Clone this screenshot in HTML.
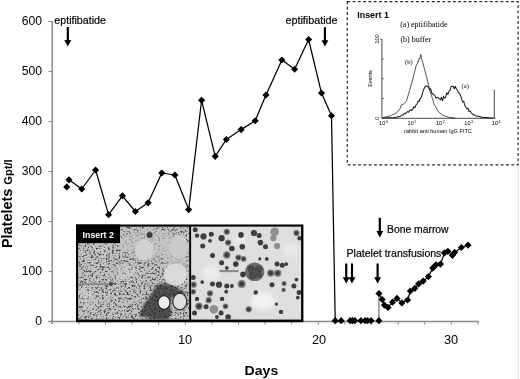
<!DOCTYPE html>
<html><head><meta charset="utf-8"><title>Platelets</title>
<style>
html,body{margin:0;padding:0;background:#fff;}
body{width:520px;height:379px;overflow:hidden;}
svg{display:block;}
text{font-family:"Liberation Sans",Arial,sans-serif;fill:#000;}
.ser{font-family:"Liberation Serif","Times New Roman",serif;}
</style></head><body>
<svg width="520" height="379" viewBox="0 0 520 379">
<defs>
<filter id="spk" x="0" y="0" width="100%" height="100%">
<feTurbulence type="fractalNoise" baseFrequency="0.48" numOctaves="3" seed="11" result="n"/>
<feColorMatrix in="n" type="matrix" values="0 0 0 0 0  0 0 0 0 0  0 0 0 0 0  4.2 0 0 0 -2.1" result="a"/>
<feComposite in="SourceGraphic" in2="a" operator="in"/>
</filter>
<filter id="bl05" x="-5%" y="-5%" width="110%" height="110%"><feGaussianBlur stdDeviation="0.45"/></filter>
<filter id="bl0" x="-20%" y="-20%" width="140%" height="140%"><feGaussianBlur stdDeviation="0.7"/></filter>
<filter id="bl1" x="-20%" y="-20%" width="140%" height="140%"><feGaussianBlur stdDeviation="1.2"/></filter>
<filter id="bl2" x="-30%" y="-30%" width="160%" height="160%"><feGaussianBlur stdDeviation="2"/></filter>
<clipPath id="cl"><rect x="78.1" y="226.6" width="111.1" height="93"/></clipPath>
<clipPath id="cr"><rect x="191.1" y="226.6" width="110" height="93"/></clipPath>
</defs>
<rect width="520" height="379" fill="#fff"/>

<g stroke="#888" stroke-width="1.5" fill="none"><path d="M52.2 21V324"/><path d="M48.3 321.4H478.8"/></g>
<g stroke="#8a8a8a" stroke-width="1" fill="none">
<path d="M48.5 21.5H52.5"/>
<path d="M48.5 71.5H52.5"/>
<path d="M48.5 121.5H52.5"/>
<path d="M48.5 171.5H52.5"/>
<path d="M48.5 221.5H52.5"/>
<path d="M48.5 271.5H52.5"/>
<path d="M48.5 321.5H52.5"/>
<path d="M78.9 321.5V324.6"/>
<path d="M105.5 321.5V324.6"/>
<path d="M132.1 321.5V324.6"/>
<path d="M158.7 321.5V324.6"/>
<path d="M185.3 321.5V324.6"/>
<path d="M211.9 321.5V324.6"/>
<path d="M238.5 321.5V324.6"/>
<path d="M265.1 321.5V324.6"/>
<path d="M291.7 321.5V324.6"/>
<path d="M318.3 321.5V324.6"/>
<path d="M344.9 321.5V324.6"/>
<path d="M371.5 321.5V324.6"/>
<path d="M398.1 321.5V324.6"/>
<path d="M424.7 321.5V324.6"/>
<path d="M451.3 321.5V324.6"/>
<path d="M477.9 321.5V324.6"/>
</g>
<text x="21.75" y="24.6" font-size="12.1" textLength="20.25" lengthAdjust="spacingAndGlyphs">600</text>
<text x="21.75" y="74.6" font-size="12.1" textLength="20.25" lengthAdjust="spacingAndGlyphs">500</text>
<text x="21.75" y="124.6" font-size="12.1" textLength="20.25" lengthAdjust="spacingAndGlyphs">400</text>
<text x="21.75" y="174.6" font-size="12.1" textLength="20.25" lengthAdjust="spacingAndGlyphs">300</text>
<text x="21.75" y="224.6" font-size="12.1" textLength="20.25" lengthAdjust="spacingAndGlyphs">200</text>
<text x="21.75" y="274.6" font-size="12.1" textLength="20.25" lengthAdjust="spacingAndGlyphs">100</text>
<text x="35.25" y="324.6" font-size="12.1" textLength="6.75" lengthAdjust="spacingAndGlyphs">0</text>
<text x="185" y="344" font-size="12.8" text-anchor="middle">10</text>
<text x="319" y="344" font-size="12.8" text-anchor="middle">20</text>
<text x="451" y="344" font-size="12.8" text-anchor="middle">30</text>
<text transform="translate(12.2,248) rotate(-90)" font-size="14.4" font-weight="bold">Platelets <tspan font-size="11.2" dy="-0.4">Gpt/l</tspan></text>
<text x="244.6" y="375.3" font-size="12.8" font-weight="bold" textLength="33.6" lengthAdjust="spacingAndGlyphs">Days</text>
<rect x="76" y="224.5" width="227.4" height="97.7" fill="#000"/>
<rect x="78.1" y="226.6" width="111.1" height="93" fill="#c2c2c2"/>
<rect x="191.1" y="226.6" width="110" height="93" fill="#dedede"/>
<g clip-path="url(#cl)">
<ellipse cx="86" cy="291" rx="7" ry="8" fill="#d2d2d2" filter="url(#bl2)"/>
<ellipse cx="128" cy="273" rx="9" ry="8" fill="#cecece" filter="url(#bl2)"/>
<ellipse cx="100" cy="250" rx="8" ry="6" fill="#cacaca" filter="url(#bl2)"/>
<rect x="78" y="226" width="112" height="94" fill="#444" filter="url(#spk)"/>
<ellipse cx="150" cy="244" rx="32" ry="14" fill="#cbcbcb" opacity="0.6" filter="url(#bl2)"/>
<ellipse cx="176" cy="262" rx="12" ry="22" fill="#cbcbcb" opacity="0.55" filter="url(#bl2)"/>
<ellipse cx="125" cy="272" rx="14" ry="9" fill="#cbcbcb" opacity="0.45" filter="url(#bl2)"/>
<ellipse cx="88" cy="300" rx="8" ry="12" fill="#cbcbcb" opacity="0.4" filter="url(#bl2)"/>
<ellipse cx="110" cy="240" rx="14" ry="8" fill="#cbcbcb" opacity="0.35" filter="url(#bl2)"/>
<path d="M157 285Q167 281 178 288L186 294Q180 300 172 297Q168 306 172 313L168 320H152Q146 316 139 317Q141 307 148 299Q153 291 157 285Z" fill="#262626" opacity="0.72" filter="url(#bl1)"/>
<ellipse cx="144.5" cy="250" rx="9.5" ry="10.5" fill="#d0d0d0" filter="url(#bl0)"/>
<ellipse cx="179" cy="247" rx="9" ry="12" fill="#cacaca" filter="url(#bl0)"/>
<ellipse cx="175.5" cy="274.5" rx="11.5" ry="11" fill="#d9d9d9" filter="url(#bl0)"/>
<ellipse cx="164" cy="302.5" rx="6" ry="6.8" fill="#ececec" stroke="#2a2a2a" stroke-width="1.2" filter="url(#bl0)"/>
<ellipse cx="179.8" cy="301.5" rx="7" ry="8.4" fill="#dcdcdc" stroke="#2a2a2a" stroke-width="1.2" filter="url(#bl0)"/>
<circle cx="149.6" cy="235" r="3" fill="#383838"/>
<rect x="79" y="283" width="30" height="2" fill="#8c8c8c"/>
<circle cx="111" cy="284" r="2" fill="#444"/>
</g>
<g clip-path="url(#cr)">
<ellipse cx="263" cy="301" rx="12" ry="9" fill="#f2f2f2" filter="url(#bl2)"/>
<ellipse cx="211" cy="273" rx="9" ry="7" fill="#ececec" filter="url(#bl2)"/>
<ellipse cx="290" cy="250" rx="8" ry="7" fill="#e8e8e8" filter="url(#bl2)"/>
<ellipse cx="240" cy="240" rx="7" ry="6" fill="#e8e8e8" filter="url(#bl2)"/>
<g filter="url(#bl05)">
<ellipse cx="254.7" cy="271.8" rx="9.8" ry="9.3" fill="#6e6e6e"/>
<circle cx="251.0" cy="268.7" r="3.6" fill="#4c4c4c"/>
<circle cx="258.3" cy="269.2" r="3.9" fill="#4c4c4c"/>
<circle cx="252.6" cy="275.4" r="3.9" fill="#4c4c4c"/>
<circle cx="258.8" cy="274.9" r="3.1" fill="#4c4c4c"/>
<circle cx="195.2" cy="229.7" r="2.5" fill="#3c3c3c"/>
<circle cx="197.0" cy="235.6" r="2.2" fill="#3c3c3c"/>
<circle cx="203.5" cy="236.4" r="3.1" fill="#3c3c3c"/>
<circle cx="202.7" cy="246.0" r="2.5" fill="#3c3c3c"/>
<circle cx="211.3" cy="234.3" r="2.5" fill="#3c3c3c"/>
<circle cx="210.0" cy="240.8" r="1.9" fill="#3c3c3c"/>
<circle cx="212.5" cy="255.5" r="2.5" fill="#3c3c3c"/>
<circle cx="221.6" cy="238.2" r="3.1" fill="#3c3c3c"/>
<circle cx="226.8" cy="231.8" r="3.1" fill="#7a7a7a"/><circle cx="226.8" cy="231.8" r="1.9" fill="#3a3a3a"/>
<circle cx="228.1" cy="242.6" r="3.1" fill="#7a7a7a"/><circle cx="228.1" cy="242.6" r="1.9" fill="#3a3a3a"/>
<circle cx="231.9" cy="248.5" r="2.8" fill="#3c3c3c"/>
<circle cx="226.8" cy="255.0" r="3.7" fill="#7a7a7a"/><circle cx="226.8" cy="255.0" r="2.2" fill="#3a3a3a"/>
<circle cx="241.0" cy="234.9" r="2.8" fill="#3c3c3c"/>
<circle cx="242.3" cy="246.7" r="2.8" fill="#3c3c3c"/>
<circle cx="238.4" cy="257.6" r="3.1" fill="#7a7a7a"/><circle cx="238.4" cy="257.6" r="1.9" fill="#3a3a3a"/>
<circle cx="243.6" cy="258.9" r="2.8" fill="#7a7a7a"/><circle cx="243.6" cy="258.9" r="1.7" fill="#3a3a3a"/>
<circle cx="235.8" cy="264.1" r="2.8" fill="#3c3c3c"/>
<circle cx="221.6" cy="262.8" r="2.5" fill="#3c3c3c"/>
<circle cx="226.8" cy="267.9" r="1.9" fill="#3c3c3c"/>
<circle cx="253.9" cy="233.0" r="3.1" fill="#3c3c3c"/>
<circle cx="259.1" cy="235.6" r="2.5" fill="#3c3c3c"/>
<circle cx="260.4" cy="242.6" r="2.8" fill="#3c3c3c"/>
<circle cx="265.5" cy="246.7" r="2.5" fill="#3c3c3c"/>
<circle cx="274.6" cy="231.8" r="4.3" fill="#8e8e8e"/>
<circle cx="273.3" cy="238.2" r="3.1" fill="#8e8e8e"/>
<circle cx="277.1" cy="246.0" r="3.1" fill="#8e8e8e"/>
<circle cx="296.5" cy="233.0" r="3.1" fill="#7a7a7a"/><circle cx="296.5" cy="233.0" r="1.9" fill="#3a3a3a"/>
<circle cx="299.6" cy="238.2" r="2.2" fill="#3c3c3c"/>
<circle cx="266.8" cy="258.9" r="1.9" fill="#3c3c3c"/>
<circle cx="259.8" cy="258.9" r="1.6" fill="#3c3c3c"/>
<circle cx="243.0" cy="274.4" r="2.8" fill="#3c3c3c"/>
<circle cx="241.7" cy="283.9" r="4.0" fill="#7a7a7a"/><circle cx="241.7" cy="283.9" r="2.4" fill="#3a3a3a"/>
<circle cx="270.7" cy="273.1" r="3.7" fill="#7a7a7a"/><circle cx="270.7" cy="273.1" r="2.2" fill="#3a3a3a"/>
<circle cx="277.7" cy="273.1" r="3.7" fill="#7a7a7a"/><circle cx="277.7" cy="273.1" r="2.2" fill="#3a3a3a"/>
<circle cx="277.1" cy="264.1" r="2.5" fill="#3c3c3c"/>
<circle cx="282.3" cy="265.3" r="2.5" fill="#3c3c3c"/>
<circle cx="286.2" cy="264.1" r="1.9" fill="#3c3c3c"/>
<circle cx="284.1" cy="283.4" r="2.5" fill="#7a7a7a"/><circle cx="284.1" cy="283.4" r="1.5" fill="#3a3a3a"/>
<circle cx="283.6" cy="289.9" r="2.2" fill="#7a7a7a"/><circle cx="283.6" cy="289.9" r="1.3" fill="#3a3a3a"/>
<circle cx="272.0" cy="284.7" r="2.5" fill="#3c3c3c"/>
<circle cx="255.7" cy="292.5" r="2.2" fill="#3c3c3c"/>
<circle cx="293.9" cy="286.0" r="2.5" fill="#3c3c3c"/>
<circle cx="296.5" cy="279.6" r="1.9" fill="#3c3c3c"/>
<circle cx="299.1" cy="292.5" r="2.5" fill="#3c3c3c"/>
<circle cx="297.8" cy="297.6" r="1.9" fill="#3c3c3c"/>
<circle cx="193.2" cy="277.5" r="2.5" fill="#3c3c3c"/>
<circle cx="193.7" cy="284.7" r="3.1" fill="#7a7a7a"/><circle cx="193.7" cy="284.7" r="1.9" fill="#3a3a3a"/>
<circle cx="193.2" cy="291.7" r="2.8" fill="#7a7a7a"/><circle cx="193.2" cy="291.7" r="1.7" fill="#3a3a3a"/>
<circle cx="202.2" cy="282.1" r="1.9" fill="#3c3c3c"/>
<circle cx="212.5" cy="283.9" r="2.5" fill="#3c3c3c"/>
<circle cx="219.0" cy="284.7" r="3.1" fill="#3c3c3c"/>
<circle cx="226.8" cy="286.0" r="2.5" fill="#3c3c3c"/>
<circle cx="231.9" cy="286.0" r="1.9" fill="#3c3c3c"/>
<circle cx="226.2" cy="291.7" r="1.9" fill="#3c3c3c"/>
<circle cx="210.0" cy="293.3" r="3.1" fill="#7a7a7a"/><circle cx="210.0" cy="293.3" r="1.9" fill="#3a3a3a"/>
<circle cx="208.7" cy="300.2" r="3.1" fill="#7a7a7a"/><circle cx="208.7" cy="300.2" r="1.9" fill="#3a3a3a"/>
<circle cx="198.9" cy="306.2" r="3.7" fill="#7a7a7a"/><circle cx="198.9" cy="306.2" r="2.2" fill="#3a3a3a"/>
<circle cx="206.1" cy="306.7" r="2.5" fill="#3c3c3c"/>
<circle cx="197.0" cy="298.9" r="2.2" fill="#3c3c3c"/>
<circle cx="222.1" cy="298.9" r="2.2" fill="#3c3c3c"/>
<circle cx="225.5" cy="306.2" r="2.8" fill="#7a7a7a"/><circle cx="225.5" cy="306.2" r="1.7" fill="#3a3a3a"/>
<circle cx="213.8" cy="309.3" r="4.3" fill="#8e8e8e"/>
<circle cx="221.1" cy="313.1" r="2.5" fill="#3c3c3c"/>
<circle cx="228.1" cy="317.0" r="2.8" fill="#3c3c3c"/>
<circle cx="216.9" cy="317.0" r="1.9" fill="#3c3c3c"/>
<circle cx="194.5" cy="313.1" r="2.5" fill="#3c3c3c"/>
<circle cx="248.7" cy="309.3" r="3.1" fill="#7a7a7a"/><circle cx="248.7" cy="309.3" r="1.9" fill="#3a3a3a"/>
<circle cx="276.4" cy="304.1" r="1.6" fill="#3c3c3c"/>
<circle cx="281.0" cy="311.9" r="2.2" fill="#3c3c3c"/>
<rect x="219.5" y="270" width="19" height="2.2" fill="#8a8a8a"/>
</g>
</g>
<rect x="76" y="224.5" width="44" height="18.6" fill="#000"/>
<text x="82.6" y="238.4" font-size="8.8" font-weight="bold" style="fill:#fff">Insert 2</text>
<polyline points="69.0,179.8 81.7,189.0 95.6,170.0 108.6,214.7 122.4,195.8 135.3,211.5 148.1,202.8 161.8,173.0 174.9,175.0 188.7,209.6 201.6,100.3 215.2,156.3 226.3,139.5 241.1,129.6 255.2,120.7 266.0,94.9 281.9,60.1 294.6,69.3 308.6,39.5 321.5,93.1 331.5,115.8 335.2,320.7" fill="none" stroke="#000" stroke-width="1.25" stroke-linejoin="round"/>
<path d="M378.9 320.7V293.5" stroke="#808080" stroke-width="1.4" fill="none"/>
<polyline points="379.0,293.5 382.2,299.5 384.4,305.1 388.0,307.4 392.5,302.2 397.0,298.4 401.9,302.9 407.5,300.0 410.4,291.0 414.9,288.3 418.7,283.8 423.2,281.1 428.4,276.6 432.8,268.1 436.0,264.8 440.5,264.1 444.5,252.9 447.9,251.3 452.4,255.3 454.6,252.4 461.3,247.5 468.0,245.2" fill="none" stroke="#000" stroke-width="1.2" stroke-linejoin="round"/>
<g fill="#000">
<path d="M66.8 183.3L70.3 186.9L66.8 190.5L63.2 186.9Z"/>
<path d="M69.0 176.2L72.5 179.8L69.0 183.4L65.5 179.8Z"/>
<path d="M81.7 185.4L85.2 189.0L81.7 192.6L78.2 189.0Z"/>
<path d="M95.6 166.4L99.1 170.0L95.6 173.6L92.0 170.0Z"/>
<path d="M108.6 211.1L112.1 214.7L108.6 218.2L105.0 214.7Z"/>
<path d="M122.4 192.2L126.0 195.8L122.4 199.4L118.9 195.8Z"/>
<path d="M135.3 207.9L138.9 211.5L135.3 215.1L131.8 211.5Z"/>
<path d="M148.1 199.2L151.7 202.8L148.1 206.4L144.5 202.8Z"/>
<path d="M161.8 169.4L165.4 173.0L161.8 176.6L158.2 173.0Z"/>
<path d="M174.9 171.4L178.5 175.0L174.9 178.6L171.3 175.0Z"/>
<path d="M188.7 206.0L192.2 209.6L188.7 213.2L185.1 209.6Z"/>
<path d="M201.6 96.8L205.2 100.3L201.6 103.8L198.0 100.3Z"/>
<path d="M215.2 152.8L218.8 156.3L215.2 159.9L211.6 156.3Z"/>
<path d="M226.3 135.9L229.9 139.5L226.3 143.1L222.8 139.5Z"/>
<path d="M241.1 126.0L244.7 129.6L241.1 133.2L237.5 129.6Z"/>
<path d="M255.2 117.2L258.8 120.7L255.2 124.2L251.6 120.7Z"/>
<path d="M266.0 91.4L269.6 94.9L266.0 98.5L262.4 94.9Z"/>
<path d="M281.9 56.6L285.4 60.1L281.9 63.6L278.3 60.1Z"/>
<path d="M294.6 65.8L298.2 69.3L294.6 72.8L291.1 69.3Z"/>
<path d="M308.6 36.0L312.2 39.5L308.6 43.0L305.1 39.5Z"/>
<path d="M321.5 89.5L325.1 93.1L321.5 96.6L317.9 93.1Z"/>
<path d="M331.5 112.2L335.1 115.8L331.5 119.3L327.9 115.8Z"/>
<path d="M335.2 317.1L338.8 320.7L335.2 324.2L331.6 320.7Z"/>
<path d="M341.1 317.1L344.7 320.7L341.1 324.2L337.6 320.7Z"/>
<path d="M350.1 317.1L353.7 320.7L350.1 324.2L346.6 320.7Z"/>
<path d="M352.5 317.1L356.1 320.7L352.5 324.2L348.9 320.7Z"/>
<path d="M354.9 317.1L358.4 320.7L354.9 324.2L351.3 320.7Z"/>
<path d="M360.9 317.1L364.4 320.7L360.9 324.2L357.3 320.7Z"/>
<path d="M365.1 317.1L368.7 320.7L365.1 324.2L361.6 320.7Z"/>
<path d="M367.5 317.1L371.1 320.7L367.5 324.2L363.9 320.7Z"/>
<path d="M371.0 317.1L374.6 320.7L371.0 324.2L367.4 320.7Z"/>
<path d="M378.9 317.1L382.4 320.7L378.9 324.2L375.3 320.7Z"/>
<path d="M379.0 289.9L382.6 293.5L379.0 297.1L375.4 293.5Z"/>
<path d="M382.2 295.9L385.8 299.5L382.2 303.1L378.6 299.5Z"/>
<path d="M384.4 301.6L387.9 305.1L384.4 308.7L380.8 305.1Z"/>
<path d="M388.0 303.8L391.6 307.4L388.0 310.9L384.4 307.4Z"/>
<path d="M392.5 298.6L396.1 302.2L392.5 305.8L388.9 302.2Z"/>
<path d="M397.0 294.8L400.6 298.4L397.0 301.9L393.4 298.4Z"/>
<path d="M401.9 299.3L405.4 302.9L401.9 306.4L398.3 302.9Z"/>
<path d="M407.5 296.4L411.1 300.0L407.5 303.6L403.9 300.0Z"/>
<path d="M410.4 287.4L413.9 291.0L410.4 294.6L406.8 291.0Z"/>
<path d="M414.9 284.8L418.4 288.3L414.9 291.9L411.3 288.3Z"/>
<path d="M418.7 280.2L422.2 283.8L418.7 287.4L415.1 283.8Z"/>
<path d="M423.2 277.6L426.8 281.1L423.2 284.7L419.6 281.1Z"/>
<path d="M428.4 273.1L431.9 276.6L428.4 280.2L424.8 276.6Z"/>
<path d="M432.8 264.6L436.4 268.1L432.8 271.7L429.2 268.1Z"/>
<path d="M436.0 261.2L439.6 264.8L436.0 268.4L432.4 264.8Z"/>
<path d="M440.5 260.6L444.1 264.1L440.5 267.7L436.9 264.1Z"/>
<path d="M444.5 249.3L448.1 252.9L444.5 256.4L440.9 252.9Z"/>
<path d="M447.9 247.8L451.4 251.3L447.9 254.9L444.3 251.3Z"/>
<path d="M452.4 251.8L455.9 255.3L452.4 258.9L448.8 255.3Z"/>
<path d="M454.6 248.8L458.2 252.4L454.6 256.0L451.1 252.4Z"/>
<path d="M461.3 243.9L464.9 247.5L461.3 251.1L457.8 247.5Z"/>
<path d="M468.0 241.6L471.6 245.2L468.0 248.8L464.4 245.2Z"/>
</g>
<g fill="#000">
<path d="M66.7 27h2.2V40.1h2.4L67.8 46.4L64.35 40.1h2.4Z"/>
<path d="M323.8 27.3h2.2V40.300000000000004h2.4L324.9 46.6L321.45 40.300000000000004h2.4Z"/>
<path d="M345.1 263.4h2.2V277.3h2.4L346.2 283.6L342.75 277.3h2.4Z"/>
<path d="M350.9 263.4h2.2V277.3h2.4L352.0 283.6L348.55 277.3h2.4Z"/>
<path d="M376.5 263.4h2.2V277.3h2.4L377.6 283.6L374.15000000000003 277.3h2.4Z"/>
<path d="M378.7 217.8h2.2V231.1h2.4L379.8 237.4L376.35 231.1h2.4Z"/>
</g>
<text x="54.3" y="23.7" font-size="10.5" textLength="51.7" lengthAdjust="spacingAndGlyphs" stroke="#000" stroke-width="0.2">eptifibatide</text>
<text x="285.4" y="23.8" font-size="10.5" textLength="52.2" lengthAdjust="spacingAndGlyphs" stroke="#000" stroke-width="0.2">eptifibatide</text>
<text x="387" y="233.1" font-size="10.5" textLength="61.6" lengthAdjust="spacingAndGlyphs" stroke="#000" stroke-width="0.2">Bone marrow</text>
<text x="346.6" y="257.3" font-size="10.5" textLength="94.8" lengthAdjust="spacingAndGlyphs" stroke="#000" stroke-width="0.2">Platelet transfusions</text>
<rect x="347.3" y="1.7" width="170.8" height="163.2" fill="none" stroke="#2a2a2a" stroke-width="1.2" stroke-dasharray="2.9 2.38"/>
<path d="M518.2 166V379" stroke="#e6e6e6" stroke-width="1.4" fill="none"/>
<text x="357.3" y="17.7" font-size="8.9" font-weight="bold">Insert 1</text>
<text class="ser" x="400.2" y="27.2" font-size="8">(a) eptifibatide</text>
<text class="ser" x="400.4" y="42" font-size="8">(b) buffer</text>
<path d="M381.9 39V118.3H495.5" fill="none" stroke="#333" stroke-width="0.9"/>
<path d="M494.3 118V89.5" fill="none" stroke="#444" stroke-width="1"/>
<path d="M380.3 39.3H382M382 58.9H383.8M382 78.7H383.8M382 98.6H383.8" stroke="#333" stroke-width="0.8" fill="none"/>
<polyline points="382.2,117.8 390.7,115.7 397.0,112.5 400.2,108.3 401.6,104.7 403.0,104.4 404.4,103.4 406.5,100.9 409.6,90.4 412.8,78.8 416.0,66.1 417.3,63.5 418.1,60.8 418.6,61.5 419.1,58.1 419.9,58.8 420.8,54.5 421.5,58.5 422.3,60.8 424.8,70.3 427.6,80.9 429.7,90.4 431.8,96.7 434.2,104.3 438.4,111.7 442.7,115.3 449.0,117.4 455.3,118.0" fill="none" stroke="#2a2a2a" stroke-width="0.8" stroke-linejoin="round"/>
<polyline points="382.2,118.0 383.1,118.0 384.0,117.9 384.9,117.9 385.9,117.9 386.8,117.9 387.7,117.8 388.6,117.8 389.5,117.8 390.4,117.8 391.3,117.7 392.3,117.7 393.2,117.7 394.1,117.6 395.0,117.6 396.0,117.4 397.1,117.0 398.1,116.8 399.1,116.6 400.2,116.4 401.2,115.8 402.2,114.9 403.3,114.9 404.3,113.7 405.4,113.7 406.5,112.4 407.5,111.6 408.6,112.3 409.6,110.5 410.7,109.8 411.8,110.5 412.8,109.3 413.8,106.6 414.9,107.7 416.0,104.9 417.0,104.1 418.1,100.9 419.1,101.5 420.2,98.5 421.2,97.4 422.3,94.5 423.4,89.6 424.4,88.3 425.5,85.9 426.5,86.2 427.6,86.2 428.6,87.4 429.6,89.9 430.7,88.9 432.0,93.5 433.3,94.2 434.6,95.1 436.0,98.1 437.1,97.5 438.1,97.5 439.2,98.8 440.3,99.7 441.4,97.3 442.5,100.8 443.5,96.3 444.6,98.1 445.6,97.5 446.7,92.8 447.9,94.2 449.0,91.1 450.1,90.3 451.1,86.6 452.2,86.3 453.2,86.3 454.3,88.7 455.3,86.3 456.4,89.0 457.4,90.1 458.4,92.8 459.5,93.2 460.6,95.7 461.6,98.8 462.7,102.1 463.8,101.4 464.8,105.5 465.9,107.3 466.9,108.8 468.0,108.1 469.0,111.5 470.1,111.0 471.1,112.5 472.2,113.9 473.2,114.7 474.3,114.7 475.3,115.7 476.4,115.9 477.3,116.0 478.2,116.2 479.1,116.4 480.0,116.6 480.9,116.9 481.8,117.2 482.7,117.5 483.7,117.4 484.6,117.4 485.6,117.6 486.6,117.6 487.5,117.7 488.5,117.7 489.4,117.8 490.4,117.9 491.4,117.9 492.3,117.9 493.3,118.0" fill="none" stroke="#1a1a1a" stroke-width="1.05" stroke-linejoin="round"/>
<text class="ser" x="405" y="63.8" font-size="6.5">(b)</text>
<text class="ser" x="461.6" y="88.3" font-size="6.5">(a)</text>
<text x="379.1" y="125" font-size="5.6">10<tspan dy="-2.4" dx="0.5" font-size="3.6">0</tspan></text>
<text x="407.6" y="125" font-size="5.6">10<tspan dy="-2.4" dx="0.5" font-size="3.6">1</tspan></text>
<text x="435.9" y="125" font-size="5.6">10<tspan dy="-2.4" dx="0.5" font-size="3.6">2</tspan></text>
<text x="464.3" y="125" font-size="5.6">10<tspan dy="-2.4" dx="0.5" font-size="3.6">3</tspan></text>
<text x="491.8" y="125" font-size="5.6">10<tspan dy="-2.4" dx="0.5" font-size="3.6">4</tspan></text>
<text x="438" y="132.6" font-size="5.6" text-anchor="middle">rabbit anti human IgG FITC</text>
<text transform="translate(372.3,78.6) rotate(-90)" font-size="5.4" text-anchor="middle">Events</text>
<text transform="translate(379.4,39) rotate(-90)" font-size="5.7" text-anchor="middle">100</text>
<text transform="translate(378.7,118.1) rotate(-90)" font-size="5.7" text-anchor="middle">0</text>
</svg></body></html>
